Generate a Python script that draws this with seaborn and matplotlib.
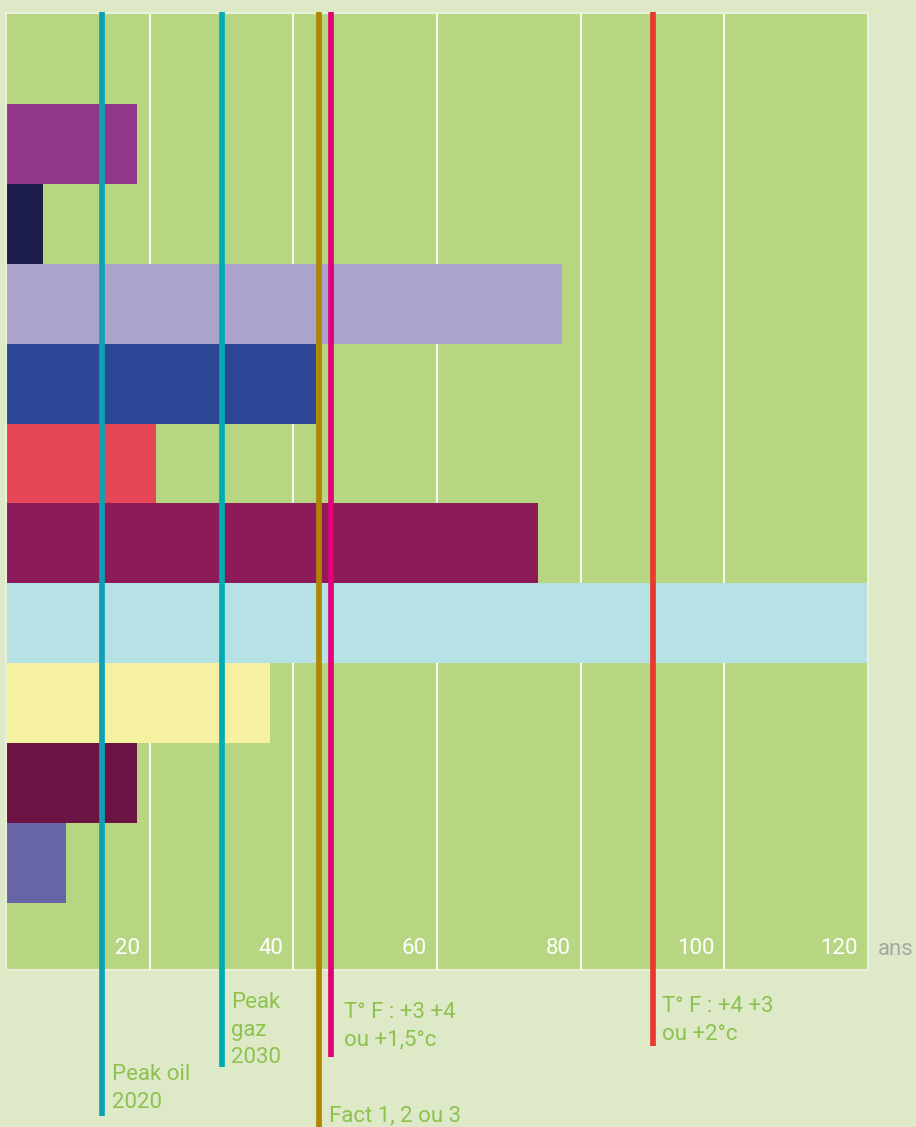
import pandas as pd
import seaborn as sns
import matplotlib.pyplot as plt
from matplotlib.transforms import ScaledTranslation

# --- data ---
categories = ["série 1", "série 2", "série 3", "série 4", "série 5",
              "série 6", "série 7", "série 8", "série 9", "série 10"]
years_left = [18.2, 5.2, 77.4, 43.2, 20.9, 74.1, 120, 36.8, 18.2, 8.4]
bar_colors = ["#93378a", "#1c1d4a", "#aba3cb", "#2c4796", "#e54658",
              "#8e1b59", "#b6e1e5", "#f6f1a1", "#6b1444", "#6865a6"]

marker_labels = ["Peak oil\n2020", "Peak\ngaz\n2030", "Fact 1, 2 ou 3",
                 "T° F : +3 +4\nou +1,5°c", "T° F : +4 +3\nou +2°c"]
marker_x = [13.3, 30.1, 43.6, 45.2, 90.1]
marker_colors = ["#0fa0b6", "#00abb4", "#b08500", "#e2007a", "#e63a2e"]

x_ticks = [20, 40, 60, 80, 100, 120]

df = pd.DataFrame({"cat": categories, "ans": years_left})

# --- style ---
fig_bg = "#deeac7"
ax_bg = "#b7d682"
label_green = "#8dc24f"
fsize = 16
plt.rcParams["font.family"] = ["Roboto", "DejaVu Sans"]

W, H = 916, 1127
fig = plt.figure(figsize=(W / 100, H / 100), dpi=100, facecolor=fig_bg)
# axes box in pixels: left 6, right 868, top 13, bottom 970
ax_top, ax_bot = 13, 970
ax = fig.add_axes([6 / W, (H - ax_bot) / H, 862 / W, (ax_bot - ax_top) / H])
ax.set_facecolor(ax_bg)

sns.barplot(data=df, x="ans", y="cat", hue="cat", palette=bar_colors,
            orient="h", width=1.0, saturation=1, linewidth=0,
            legend=False, ax=ax)

ax.set_xlim(0, 120)
ax.set_ylim(9.5 + 67 / 80, -0.5 - 91 / 80)
ax.set_axisbelow(True)
ax.grid(axis="x", color="#f6f9ef", linewidth=1.5)
ax.grid(axis="y", visible=False)
ax.set_xlabel("")
ax.set_ylabel("")
ax.set_yticks([])
for s in ax.spines.values():
    s.set_color("#e9f0da")
    s.set_linewidth(1.5)

# tick labels inside the plot, left of each grid line
ax.set_xticks(x_ticks)
ax.set_xticklabels([str(t) for t in x_ticks])
ax.tick_params(axis="x", length=0, pad=-23, labelsize=fsize, labelcolor="white")
for lab in ax.get_xticklabels():
    lab.set_ha("right")
    lab.set_transform(lab.get_transform() + ScaledTranslation(-10 / 100, 0, fig.dpi_scale_trans))

ax.annotate("ans", xy=(1, (ax_bot - 955) / (ax_bot - ax_top)), xycoords="axes fraction",
            xytext=(10, 0), textcoords="offset pixels", ha="left", va="baseline",
            fontsize=fsize, color="#a2a9a0")

# vertical reference lines running below the chart
to_ax = lambda py: (ax_bot - py) / (ax_bot - ax_top)
line_bottoms = [1116, 1067, 1130, 1057, 1046]
label_tops = [1064, 992, 1105, 1002, 996]
label_dx = [10, 9, 10, 13, 9]
xt = ax.get_xaxis_transform()
for lab, xv, col, yb, yt, dx in zip(marker_labels, marker_x, marker_colors,
                                    line_bottoms, label_tops, label_dx):
    ax.plot([xv, xv], [to_ax(12), to_ax(yb)], transform=xt, color=col,
            linewidth=4.1, solid_capstyle="butt", clip_on=False, zorder=5)
    ax.annotate(lab, xy=(xv, to_ax(yt)), xycoords=xt, xytext=(dx, 0),
                textcoords="offset pixels", ha="left", va="top",
                fontsize=fsize, color=label_green, linespacing=1.42,
                annotation_clip=False)

fig.savefig("out.png", dpi=100, facecolor=fig_bg)
